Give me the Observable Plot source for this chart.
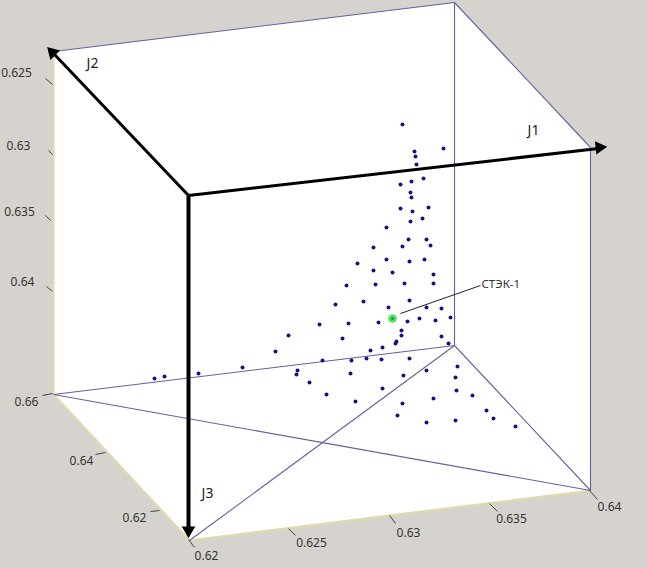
<!DOCTYPE html>
<html><head><meta charset="utf-8">
<script src="https://cdn.jsdelivr.net/npm/d3@7"></script>
<script src="https://cdn.jsdelivr.net/npm/@observablehq/plot@0.6"></script>
<style>html,body{margin:0;padding:0;background:#d6d3ce;overflow:hidden}svg{display:block}</style>
</head><body><div id="chart"></div>
<script>
// Projected (picture-plane) positions
const pointX = [402,443,414,415,416,423,400,411,410,411,400,412,428,410,422,386,408,426,430,402,373,386,357,373,409,424,392,433,433,404,375,346,363,335,388,409,426,441,450,407,419,435,319,348,378,288,342,401,401,441,396,395,448,275,370,382,322,351,366,381,409,242,198,164,154,297,296,350,309,382,326,355,403,426,457,455,456,472,433,402,397,426,455,486,493,515];
const pointY = [124,148,151,156,164,178,184,181,192,197,208,211,207,221,218,227,239,239,245,246,247,259,263,270,261,259,272,274,283,283,284,285,301,304,307,300,307,308,317,321,318,320,324,323,322,335,338,330,335,336,341,343,343,351,350,347,360,360,358,359,358,367,373,376,378,370,374,373,382,388,394,401,375,370,366,377,390,395,398,403,415,422,420,410,418,426];
const highlightX = [392], highlightY = [318];
const calloutX1 = [400], calloutY1 = [313], calloutX2 = [480], calloutY2 = [285];
const calloutLabel = ["СТЭК-1"], calloutLabelX = [481], calloutLabelY = [284];

const faceX = [53,454,590,590,189,53];
const faceY = [51,2,147,490,540,394];

const edgeX1 = [53,454,590,454,454,454,53,454];
const edgeY1 = [51,2,147,2,345,345,394,345];
const edgeX2 = [454,590,590,454,53,590,590,189];
const edgeY2 = [2,147,490,345,394,490,490,540];

const rimX1 = [53,53,189], rimY1 = [51,394,540], rimX2 = [53,189,590], rimY2 = [394,540,490];

const axisX1 = [188,188], axisY1 = [195,195];
const axisX2 = [598,54], axisY2 = [148,54];
const axisDownX1 = [188], axisDownY1 = [195], axisDownX2 = [188], axisDownY2 = [532];
const axisHeadX = [599,52,188], axisHeadY = [147,52,530], axisHeadAngle = [84,-44,180];
const axisNames = ["J1","J2","J3"], axisNameX = [533,92,207], axisNameY = [130,63,493];

const tickLabels = ["0.625","0.63","0.635","0.64","0.66","0.64","0.62","0.62","0.625","0.63","0.635","0.64"];
const tickLabelX = [16,18,19,22,26,81,134,206,311,408,511,609];
const tickLabelY = [73,146,212,282,402,461,518,556,543,533,519,507];
const tickX1 = [45,48,45,46,42,95,150,188,288,389,489,589];
const tickY1 = [78,150,215,286,395,454,511,539,528,515,503,490];
const tickX2 = [52,52,50,52,52,105,159,194,295,395,497,597];
const tickY2 = [84,154,220,291,393,452,510,547,535,523,511,499];

const rows = (o) => { const k = Object.keys(o); return o[k[0]].map((_, i) => Object.fromEntries(k.map(c => [c, o[c][i]]))); };
const segs = (x1,y1,x2,y2) => rows({x1,y1,x2,y2});
const face = rows({x:faceX, y:faceY});
const font = '"Noto Sans", sans-serif';
const seg = {x1:"x1",y1:"y1",x2:"x2",y2:"y2"};

const chart = Plot.plot({
  width: 647, height: 568,
  margin: 0,
  x: {domain: [0,647], axis: null},
  y: {domain: [568,0], axis: null},
  style: {background: "#d6d3ce", fontFamily: font},
  marks: [
    Plot.line(face, {x:"x", y:"y", fill:"#ffffff", stroke:"none"}),
    Plot.link(segs(rimX1,rimY1,rimX2,rimY2), {...seg, stroke:"#dedcae", strokeWidth:2.2}),
    Plot.link(segs(edgeX1,edgeY1,edgeX2,edgeY2), {...seg, stroke:"#62629f", strokeWidth:1.1}),
    Plot.link(segs(tickX1,tickY1,tickX2,tickY2), {...seg, stroke:"#333", strokeWidth:0.9}),
    Plot.dot(rows({x:pointX,y:pointY}), {x:"x", y:"y", r:2, fill:"#1c1080", stroke:"none"}),
    Plot.dot(rows({x:highlightX,y:highlightY}), {x:"x", y:"y", r:4.3, fill:"#4fe85a", stroke:"none"}),
    Plot.dot(rows({x:highlightX,y:highlightY}), {x:"x", y:"y", r:1.6, fill:"#2a8a5a", stroke:"none"}),
    Plot.link(segs(calloutX1,calloutY1,calloutX2,calloutY2), {...seg, stroke:"#222", strokeWidth:1}),
    Plot.link(segs(axisX1,axisY1,axisX2,axisY2), {...seg, stroke:"#000", strokeWidth:3}),
    Plot.link(segs(axisDownX1,axisDownY1,axisDownX2,axisDownY2), {...seg, stroke:"#000", strokeWidth:4}),
    Plot.dot(rows({x:axisHeadX,y:axisHeadY,a:axisHeadAngle}), {x:"x", y:"y", rotate:"a", symbol:"triangle", r:5, fill:"#000", stroke:"none"}),
    Plot.text(rows({x:tickLabelX,y:tickLabelY,t:tickLabels}), {x:"x", y:"y", text:"t", fontSize:12, fill:"#333"}),
    Plot.text(rows({x:axisNameX,y:axisNameY,t:axisNames}), {x:"x", y:"y", text:"t", fontSize:14, fill:"#222"}),
    Plot.text(rows({x:calloutLabelX,y:calloutLabelY,t:calloutLabel}), {x:"x", y:"y", text:"t", textAnchor:"start", fontSize:11.5, fill:"#333"})
  ]
});
document.getElementById("chart").append(chart);
</script></body></html>
